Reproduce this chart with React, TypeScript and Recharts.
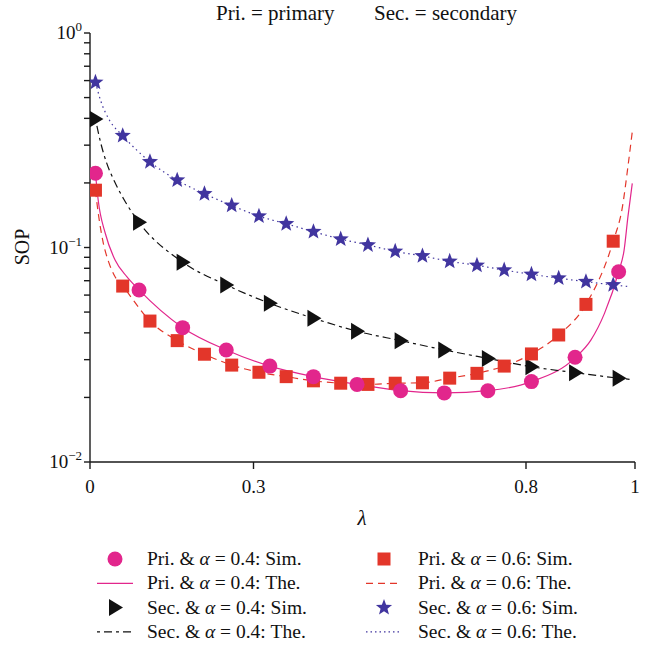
import React from 'react'
import { ComposedChart, Line, Scatter, XAxis, YAxis } from 'recharts'

const SERIF = '"Liberation Serif", "DejaVu Serif", serif'

const PINK = '#e2268c'
const RED = '#e3362a'
const BLACK = '#111111'
const BLUE = '#41359f'
const AXIS = '#1a1a1a'

// simulation grids
const lambdaSparse = [0.01, 0.09, 0.17, 0.25, 0.33, 0.41, 0.49, 0.57, 0.65, 0.73, 0.81, 0.89, 0.97]
const lambdaDense = [
  0.01, 0.06, 0.11, 0.16, 0.21, 0.26, 0.31, 0.36, 0.41, 0.46,
  0.51, 0.56, 0.61, 0.66, 0.71, 0.76, 0.81, 0.86, 0.91, 0.96,
]

// simulated SOP
const priA04Sim = [0.222, 0.0634, 0.0423, 0.0333, 0.028, 0.025, 0.023, 0.0215, 0.021, 0.0215, 0.0237, 0.0308, 0.0771]
const secA04Sim = [0.397, 0.131, 0.0854, 0.0669, 0.0549, 0.0468, 0.0407, 0.0368, 0.0333, 0.0304, 0.0278, 0.0261, 0.0246]
const priA06Sim = [
  0.185, 0.0661, 0.0454, 0.0368, 0.0318, 0.0283, 0.0262, 0.025, 0.0239, 0.0233,
  0.023, 0.0233, 0.0234, 0.0246, 0.0259, 0.028, 0.0319, 0.0391, 0.0543, 0.107,
]
const secA06Sim = [
  0.589, 0.332, 0.251, 0.206, 0.178, 0.157, 0.14, 0.129, 0.1185, 0.1095,
  0.1027, 0.096, 0.0913, 0.0862, 0.0826, 0.0785, 0.075, 0.0719, 0.0693, 0.0669,
]

// theoretical curves
const priA04TheX = [0.01, 0.015, 0.028, 0.046, 0.0675, 0.09, 0.17, 0.25, 0.33, 0.41, 0.49, 0.57, 0.65, 0.73, 0.81, 0.89, 0.919, 0.944, 0.97, 0.98, 0.987, 0.995]
const priA04TheY = [0.222, 0.1665, 0.1165, 0.0874, 0.0731, 0.0634, 0.0423, 0.0333, 0.028, 0.025, 0.023, 0.0215, 0.021, 0.0215, 0.0237, 0.0306, 0.037, 0.0493, 0.0771, 0.0973, 0.139, 0.199]

const priA06TheX = [0.01, 0.014, 0.018, 0.0245, 0.034, 0.046, 0.06, 0.11, 0.16, 0.21, 0.26, 0.31, 0.36, 0.41, 0.46, 0.51, 0.56, 0.61, 0.66, 0.71, 0.76, 0.81, 0.86, 0.91, 0.96, 0.977, 0.987, 0.995]
const priA06TheY = [0.185, 0.152, 0.129, 0.1046, 0.0859, 0.0731, 0.0661, 0.0454, 0.0368, 0.0318, 0.0283, 0.0262, 0.025, 0.0239, 0.0233, 0.023, 0.0233, 0.0234, 0.0246, 0.0259, 0.028, 0.0319, 0.0391, 0.0543, 0.107, 0.155, 0.238, 0.3467]

const secA04TheX = [0.01, 0.02, 0.03, 0.045, 0.065, 0.09, 0.17, 0.25, 0.33, 0.41, 0.49, 0.57, 0.65, 0.73, 0.81, 0.89, 0.97, 0.99]
const secA04TheY = [0.397, 0.305, 0.25, 0.203, 0.163, 0.131, 0.0854, 0.0669, 0.0549, 0.0468, 0.0407, 0.0368, 0.0333, 0.0304, 0.0278, 0.0261, 0.0246, 0.0243]

const secA06TheX = [0.01, 0.02, 0.035, 0.06, 0.11, 0.16, 0.21, 0.26, 0.31, 0.36, 0.41, 0.46, 0.51, 0.56, 0.61, 0.66, 0.71, 0.76, 0.81, 0.86, 0.91, 0.96, 0.99]
const secA06TheY = [0.589, 0.48, 0.395, 0.332, 0.251, 0.206, 0.178, 0.157, 0.14, 0.129, 0.1185, 0.1095, 0.1027, 0.096, 0.0913, 0.0862, 0.0826, 0.0785, 0.075, 0.0719, 0.0693, 0.0669, 0.0657]

// axes
const xTicks = [0, 0.3, 0.8, 1]
const yTicks = [
  0.01, 0.02, 0.03, 0.04, 0.05, 0.06, 0.07, 0.08, 0.09,
  0.1, 0.2, 0.3, 0.4, 0.5, 0.6, 0.7, 0.8, 0.9, 1,
]
const yDecadeLabels = new Map<number, string>([[0.01, '−2'], [0.1, '−1'], [1, '0']])

const zip = (xs: number[], ys: number[]) => xs.map((x, i) => ({ x, y: ys[i] }))

type MarkProps = { cx?: number; cy?: number }

const CircleMark = ({ cx = 0, cy = 0 }: MarkProps) => <circle cx={cx} cy={cy} r={7.5} fill={PINK} />
const SquareMark = ({ cx = 0, cy = 0 }: MarkProps) => <rect x={cx - 6.5} y={cy - 6.5} width={13} height={13} fill={RED} />
const TriangleMark = ({ cx = 0, cy = 0 }: MarkProps) => (
  <polygon points={`${cx - 6},${cy - 8.5} ${cx + 8},${cy} ${cx - 6},${cy + 8.5}`} fill={BLACK} />
)
const StarMark = ({ cx = 0, cy = 0 }: MarkProps) => {
  const pts: string[] = []
  for (let i = 0; i < 10; i++) {
    const r = i % 2 === 0 ? 8.5 : 3.6
    const a = -Math.PI / 2 + (i * Math.PI) / 5
    pts.push(`${cx + r * Math.cos(a)},${cy + r * Math.sin(a)}`)
  }
  return <polygon points={pts.join(' ')} fill={BLUE} />
}

// label only on the decades; tick lines come from the axis itself
const YTick = ({ x = 0, y = 0, payload }: { x?: number; y?: number; payload?: { value: number } }) => {
  const exp = payload ? yDecadeLabels.get(payload.value) : undefined
  if (!exp) return <g />
  return (
    <text x={x} y={y + 6} textAnchor="end" fontFamily={SERIF} fontSize={19} fill="#111">
      10<tspan dy={-8} fontSize={13}>{exp}</tspan>
    </text>
  )
}

const legendRows = [
  { label: 'Pri. & ', alpha: '0.4: Sim.', col: 0, kind: 'circle' },
  { label: 'Pri. & ', alpha: '0.4: The.', col: 0, kind: 'solid' },
  { label: 'Sec. & ', alpha: '0.4: Sim.', col: 0, kind: 'triangle' },
  { label: 'Sec. & ', alpha: '0.4: The.', col: 0, kind: 'dashdot' },
  { label: 'Pri. & ', alpha: '0.6: Sim.', col: 1, kind: 'square' },
  { label: 'Pri. & ', alpha: '0.6: The.', col: 1, kind: 'dashed' },
  { label: 'Sec. & ', alpha: '0.6: Sim.', col: 1, kind: 'star' },
  { label: 'Sec. & ', alpha: '0.6: The.', col: 1, kind: 'dotted' },
]

const LegendSymbol = ({ kind, cx, cy }: { kind: string; cx: number; cy: number }) => {
  switch (kind) {
    case 'circle': return <CircleMark cx={cx} cy={cy} />
    case 'square': return <SquareMark cx={cx} cy={cy} />
    case 'triangle': return <TriangleMark cx={cx} cy={cy} />
    case 'star': return <StarMark cx={cx} cy={cy} />
    case 'solid': return <line x1={cx - 18} x2={cx + 18} y1={cy} y2={cy} stroke={PINK} strokeWidth={1.2} />
    case 'dashed': return <line x1={cx - 18} x2={cx + 18} y1={cy} y2={cy} stroke={RED} strokeWidth={1.2} strokeDasharray="7 5" />
    case 'dashdot': return <line x1={cx - 18} x2={cx + 18} y1={cy} y2={cy} stroke={BLACK} strokeWidth={1.2} strokeDasharray="3 4 8 4" />
    default: return <line x1={cx - 18} x2={cx + 18} y1={cy} y2={cy} stroke={BLUE} strokeWidth={1.2} strokeDasharray="1.5 3" />
  }
}

export default function App() {
  const lineProps = { type: 'monotone' as const, dataKey: 'y', dot: false, activeDot: false, isAnimationActive: false, strokeWidth: 1.2 }
  const axisStroke = { stroke: AXIS, strokeWidth: 1.4 }
  return (
    <div style={{ position: 'absolute', left: 0, top: 0, width: 648, height: 648, background: '#fff' }}>
      <ComposedChart width={648} height={648} margin={{ top: 33, right: 13, bottom: 146, left: 0 }}>
        <XAxis
          type="number"
          dataKey="x"
          domain={[0, 1]}
          ticks={xTicks}
          tickFormatter={(v: number) => String(v)}
          tickSize={7}
          tickMargin={11}
          height={40}
          axisLine={axisStroke}
          tickLine={axisStroke}
          tick={{ fontFamily: SERIF, fontSize: 19, fill: '#111' }}
          allowDataOverflow
        />
        <XAxis xAxisId="top" orientation="top" type="number" domain={[0, 1]} height={0} tick={false} tickLine={false} axisLine={axisStroke} />
        <YAxis
          type="number"
          dataKey="y"
          scale="log"
          domain={[0.01, 1]}
          ticks={yTicks}
          interval={0}
          tickSize={6}
          tickMargin={2}
          width={90}
          axisLine={axisStroke}
          tickLine={axisStroke}
          tick={<YTick />}
          allowDataOverflow
        />
        <YAxis
          yAxisId="right"
          orientation="right"
          scale="log"
          domain={[0.01, 1]}
          ticks={[0.1]}
          interval={0}
          width={0}
          mirror
          tickSize={5}
          tick={<g />}
          axisLine={axisStroke}
          tickLine={axisStroke}
        />

        <Line {...lineProps} data={zip(priA04TheX, priA04TheY)} stroke={PINK} />
        <Line {...lineProps} data={zip(priA06TheX, priA06TheY)} stroke={RED} strokeDasharray="7 5" />
        <Line {...lineProps} data={zip(secA04TheX, secA04TheY)} stroke={BLACK} strokeDasharray="3 4 8 4" />
        <Line {...lineProps} data={zip(secA06TheX, secA06TheY)} stroke={BLUE} strokeDasharray="1.5 3.5" />

        <Scatter data={zip(lambdaDense, secA06Sim)} shape={(p: MarkProps) => <StarMark {...p} />} isAnimationActive={false} />
        <Scatter data={zip(lambdaSparse, secA04Sim)} shape={(p: MarkProps) => <TriangleMark {...p} />} isAnimationActive={false} />
        <Scatter data={zip(lambdaDense, priA06Sim)} shape={(p: MarkProps) => <SquareMark {...p} />} isAnimationActive={false} />
        <Scatter data={zip(lambdaSparse, priA04Sim)} shape={(p: MarkProps) => <CircleMark {...p} />} isAnimationActive={false} />
      </ComposedChart>

      {/* title, axis names and legend */}
      <svg width={648} height={648} style={{ position: 'absolute', left: 0, top: 0, pointerEvents: 'none' }} fontFamily={SERIF} fill="#111">
        <text x={216} y={20} fontSize={21}>Pri. = primary</text>
        <text x={374} y={20} fontSize={21}>Sec. = secondary</text>
        <text x={0} y={0} fontSize={20} textAnchor="middle" transform="translate(29 247) rotate(-90)">SOP</text>
        <text x={362} y={525} fontSize={21} fontStyle="italic" textAnchor="middle">λ</text>
        {legendRows.map((r, i) => {
          const row = i % 4
          const cy = 559 + row * 24.3
          const sx = r.col === 0 ? 115 : 384
          const tx = r.col === 0 ? 147 : 418
          return (
            <g key={i}>
              <LegendSymbol kind={r.kind} cx={sx} cy={cy} />
              <text x={tx} y={cy + 6} fontSize={19.5}>
                {r.label}<tspan fontStyle="italic">α</tspan> = {r.alpha}
              </text>
            </g>
          )
        })}
      </svg>
    </div>
  )
}
